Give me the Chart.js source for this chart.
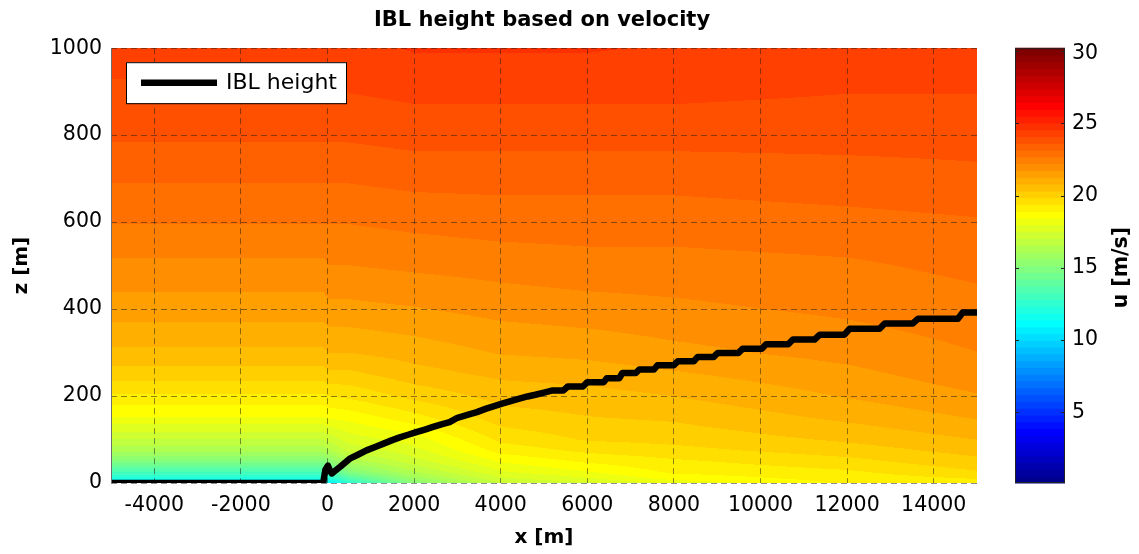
<!DOCTYPE html>
<html><head><meta charset="utf-8">
<script src="https://cdn.jsdelivr.net/npm/chart.js@4.4.1/dist/chart.umd.min.js"></script>
<style>html,body{margin:0;padding:0;background:#fff;}#wrap{width:1139px;height:554px;position:relative;}</style>
</head><body><div id="wrap"><canvas id="c" width="1139" height="554"></canvas></div>
<script>
// ---------------- data ----------------
const zLevels   = [0, 10, 25, 50, 75, 100, 150, 200, 250, 300, 400, 500, 600, 700, 800, 900, 1000];
const xStations = [-5000, -100, 50, 500, 2000, 4000, 6000, 8000, 12000, 15000];
const uUpstream = [11.0, 12.0, 13.3, 15.0, 16.3, 17.0, 18.4, 19.3, 20.1, 20.7, 21.5, 22.1, 22.7, 23.2, 23.7, 24.0, 24.3];
const uX50      = [11.0, 12.2, 13.6, 15.3, 16.5, 17.2, 18.5, 19.4, 20.2, 20.8, 21.6, 22.2, 22.7, 23.2, 23.7, 24.0, 24.3];
const uX500     = [12.5, 13.5, 15.0, 16.3, 17.2, 17.7, 18.6, 19.5, 20.2, 20.8, 21.6, 22.2, 22.7, 23.2, 23.7, 24.1, 24.4];
const uX2000    = [15.2, 15.8, 16.5, 17.3, 17.8, 18.2, 19.2, 20.0, 20.6, 21.0, 21.7, 22.3, 22.8, 23.3, 23.8, 24.2, 24.6];
const uX4000    = [17.0, 17.4, 17.9, 18.5, 19.1, 19.5, 20.1, 20.5, 20.9, 21.3, 21.9, 22.4, 22.9, 23.3, 23.8, 24.2, 24.6];
const uX6000    = [17.4, 17.9, 18.4, 19.0, 19.5, 19.9, 20.3, 20.6, 21.0, 21.4, 22.0, 22.5, 22.9, 23.3, 23.8, 24.2, 24.6];
const uX8000    = [18.1, 18.6, 19.0, 19.3, 19.7, 20.0, 20.4, 20.8, 21.2, 21.6, 22.1, 22.5, 22.9, 23.3, 23.8, 24.2, 24.5];
const uX12000   = [19.0, 19.1, 19.3, 19.7, 20.1, 20.4, 20.9, 21.3, 21.6, 21.9, 22.3, 22.6, 23.0, 23.4, 23.8, 24.1, 24.3];
const uX15000   = [19.2, 19.4, 19.8, 20.2, 20.5, 20.8, 21.3, 21.7, 22.0, 22.2, 22.5, 22.8, 23.1, 23.5, 23.8, 24.1, 24.3];
const uProfiles = [uUpstream, uUpstream, uX50, uX500, uX2000, uX4000, uX6000, uX8000, uX12000, uX15000];

const iblX = [-5000, -100, -50, 10, 50, 100, 300, 514, 700, 900, 1100, 1280, 1480, 1670, 1860, 2050, 2250, 2440, 2630, 2820,
              3000, 3250, 3450, 3665, 3850, 4050, 4250, 4430, 4620, 4800, 5000, 5200, 5450, 5550, 5900, 6000, 6380, 6450,
              6740, 6810, 7120, 7200, 7540, 7620, 8000, 8090, 8460, 8550, 8920, 9010, 9490, 9590, 10030, 10130, 10640,
              10750, 11250, 11370, 11940, 12060, 12750, 12870, 13520, 13640, 14560, 14670, 15000];
const iblZ = [0, 0, 30, 40, 30, 22, 38, 56, 65, 75, 83, 90, 98, 105, 111, 117, 123, 129, 135, 140,
              150, 157, 163, 171, 177, 183, 189, 194, 199, 203, 208, 213, 213, 222, 222, 232, 232, 241,
              241, 253, 253, 261, 261, 271, 271, 280, 280, 290, 290, 299, 299, 309, 309, 319, 319,
              330, 330, 341, 341, 355, 355, 367, 367, 378, 378, 392, 392];

const xTickValues = [-4000, -2000, 0, 2000, 4000, 6000, 8000, 10000, 12000, 14000];
const zTickValues = [0, 200, 400, 600, 800, 1000];
const uTickValues = [5, 10, 15, 20, 25, 30];
const uRange = [0.1, 30.2];
const xRange = [-5000, 15000];
const zRange = [0, 1000];

// ---------------- colormap (MATLAB jet(64)) ----------------
function jetMap(m) {
  const n = Math.ceil(m / 4);
  const u = [];
  for (let i = 1; i <= n; i++) u.push(i / n);
  for (let i = 1; i < n; i++) u.push(1);
  for (let i = n; i >= 1; i--) u.push(i / n);
  const gOff = Math.ceil(n / 2) - (m % 4 === 1 ? 1 : 0);
  const J = []; for (let i = 0; i < m; i++) J.push([0, 0, 0]);
  for (let k = 0; k < u.length; k++) {
    const g = gOff + k + 1, r = g + n, b = g - n;
    if (r <= m) J[r - 1][0] = u[k];
    if (g <= m) J[g - 1][1] = u[k];
    if (b >= 1) J[b - 1][2] = u[k];
  }
  return J.map(c => c.map(v => Math.round(v * 255)));
}
const JET = jetMap(64);
function colorIndex(v) {
  let i = Math.floor((v - uRange[0]) / (uRange[1] - uRange[0]) * 64);
  return Math.max(0, Math.min(63, i));
}
function seg(arr, v) {
  let i = 0;
  while (i < arr.length - 2 && v > arr[i + 1]) i++;
  let w = (v - arr[i]) / (arr[i + 1] - arr[i]);
  return [i, Math.max(0, Math.min(1, w))];
}

const heatmapPlugin = {
  id: 'heatmap',
  beforeDraw(chart) {
    const {ctx, chartArea: a} = chart;
    const xs = chart.scales.x, ys = chart.scales.y;
    const L = Math.round(a.left), T = Math.round(a.top);
    const W = Math.round(a.right) - L, H = Math.round(a.bottom) - T;
    const off = document.createElement('canvas'); off.width = W; off.height = H;
    const octx = off.getContext('2d');
    const img = octx.createImageData(W, H);
    const cols = [], rows = [];
    for (let i = 0; i < W; i++) cols.push(seg(xStations, xs.getValueForPixel(L + i + 0.5)));
    for (let j = 0; j < H; j++) rows.push(seg(zLevels, ys.getValueForPixel(T + j + 0.5)));
    for (let j = 0; j < H; j++) {
      const [zi, zw] = rows[j];
      for (let i = 0; i < W; i++) {
        const [xi, xw] = cols[i];
        const p0 = uProfiles[xi], p1 = uProfiles[xi + 1];
        const a0 = p0[zi] * (1 - zw) + p0[zi + 1] * zw;
        const a1 = p1[zi] * (1 - zw) + p1[zi + 1] * zw;
        const c = JET[colorIndex(a0 * (1 - xw) + a1 * xw)];
        const k = (j * W + i) * 4;
        img.data[k] = c[0]; img.data[k + 1] = c[1]; img.data[k + 2] = c[2]; img.data[k + 3] = 255;
      }
    }
    octx.putImageData(img, 0, 0);
    ctx.drawImage(off, L, T);
  }
};

const overlayPlugin = {
  id: 'overlay',
  afterDraw(chart) {
    const {ctx, chartArea: a} = chart;
    ctx.save();
    // axes left edge
    ctx.strokeStyle = '#6e6e6e'; ctx.lineWidth = 1;
    ctx.beginPath(); ctx.moveTo(a.left + 0.5, a.top); ctx.lineTo(a.left + 0.5, a.bottom); ctx.stroke();
    // legend
    const ds = chart.data.datasets[0];
    const bx = a.left + 15, by = a.top + 14, bw = 220, bh = 41;
    ctx.fillStyle = '#fff'; ctx.fillRect(bx, by, bw, bh);
    ctx.strokeStyle = '#000'; ctx.lineWidth = 1; ctx.strokeRect(bx + 0.5, by + 0.5, bw, bh);
    ctx.strokeStyle = ds.borderColor; ctx.lineWidth = ds.borderWidth; ctx.lineCap = 'butt';
    ctx.beginPath(); ctx.moveTo(bx + 15, by + 20.5); ctx.lineTo(bx + 91, by + 20.5); ctx.stroke();
    ctx.fillStyle = '#000'; ctx.font = '22px "DejaVu Sans"'; ctx.textBaseline = 'middle'; ctx.textAlign = 'left';
    ctx.fillText(ds.label, bx + 100, by + 21.5);
    // colorbar
    const cb = chart.scales.cb;
    const cx = cb.left + 38, cw = 50;
    for (let i = 0; i < 64; i++) {
      const v0 = uRange[0] + i * (uRange[1] - uRange[0]) / 64;
      const v1 = uRange[0] + (i + 1) * (uRange[1] - uRange[0]) / 64;
      const y0 = cb.getPixelForValue(v0), y1 = cb.getPixelForValue(v1);
      const c = JET[i];
      ctx.fillStyle = `rgb(${c[0]},${c[1]},${c[2]})`;
      ctx.fillRect(cx, Math.min(y0, y1) - 0.5, cw, Math.abs(y0 - y1) + 1);
    }
    ctx.strokeStyle = '#222'; ctx.lineWidth = 1;
    ctx.strokeRect(cx + 0.5, cb.top + 0.5, cw - 1, cb.bottom - cb.top - 1);
    ctx.beginPath();
    uTickValues.forEach(v => {
      const y = Math.round(cb.getPixelForValue(v)) + 0.5;
      ctx.moveTo(cx, y); ctx.lineTo(cx + 4, y);
      ctx.moveTo(cx + cw - 4, y); ctx.lineTo(cx + cw, y);
    });
    ctx.stroke();
    // colorbar tick labels
    ctx.fillStyle = '#000';
    ctx.font = '20.5px "DejaVu Sans"'; ctx.textAlign = 'left'; ctx.textBaseline = 'middle';
    uTickValues.forEach(v => {
      const y = cb.getPixelForValue(v);
      ctx.fillText(String(v), cx + cw + 7, Math.max(y, cb.top + 5));
    });
    // colorbar label
    ctx.translate(1121.5, (cb.top + cb.bottom) / 2 + 2);
    ctx.rotate(-Math.PI / 2);
    ctx.font = 'bold 20.5px "DejaVu Sans"'; ctx.textAlign = 'center'; ctx.textBaseline = 'middle';
    ctx.fillText('u [m/s]', 0, 0);
    ctx.restore();
  }
};

const tickFont = {family: '"DejaVu Sans"', size: 20.5};
const titleFont = {family: '"DejaVu Sans"', size: 20, weight: 'bold'};
const gridColor = 'rgba(25,25,25,0.5)';

new Chart(document.getElementById('c'), {
  type: 'line',
  data: {
    datasets: [{
      label: 'IBL height',
      data: iblX.map((x, i) => ({x: x, y: iblZ[i]})),
      borderColor: '#000', borderWidth: 6.5, pointRadius: 0, tension: 0, fill: false,
      borderJoinStyle: 'round', borderCapStyle: 'butt'
    }]
  },
  options: {
    responsive: false, animation: false, events: [],
    layout: {padding: {left: 0, right: 55, top: 0, bottom: 0}},
    plugins: {
      legend: {display: false}, tooltip: {enabled: false},
      title: {display: true, text: 'IBL height based on velocity', color: '#000',
              font: {family: '"DejaVu Sans"', size: 21, weight: 'bold'}, padding: {top: 8, bottom: 15}}
    },
    scales: {
      x: {
        type: 'linear', position: 'bottom', min: xRange[0], max: xRange[1],
        afterBuildTicks: s => { s.ticks = xTickValues.map(v => ({value: v})); },
        afterFit: s => { s.height = 71; },
        ticks: {font: tickFont, color: '#000', padding: 10.5, autoSkip: false, maxRotation: 0, callback: v => String(v)},
        grid: {color: gridColor, lineWidth: 1, drawTicks: false},
        border: {display: false, dash: [6, 4]},
        title: {display: true, text: 'x [m]', color: '#000', font: titleFont, padding: {top: 0, bottom: 4}}
      },
      y: {
        type: 'linear', position: 'left', min: zRange[0], max: zRange[1],
        afterBuildTicks: s => { s.ticks = zTickValues.map(v => ({value: v})); },
        afterFit: s => { s.width = 111; },
        ticks: {font: tickFont, color: '#000', padding: 9, callback: v => String(v)},
        grid: {color: gridColor, lineWidth: 1, drawTicks: false},
        border: {display: false, dash: [6, 4]},
        title: {display: true, text: 'z [m]', color: '#000', font: titleFont, padding: {top: 9.5, bottom: 0}}
      },
      cb: {
        type: 'linear', position: 'right', axis: 'y', min: uRange[0], max: uRange[1],
        afterBuildTicks: s => { s.ticks = uTickValues.map(v => ({value: v})); },
        afterFit: s => { s.width = 107; },
        ticks: {display: false, padding: 0},
        grid: {display: false, drawTicks: false},
        border: {display: false}
      }
    }
  },
  plugins: [heatmapPlugin, overlayPlugin]
});
</script></body></html>
